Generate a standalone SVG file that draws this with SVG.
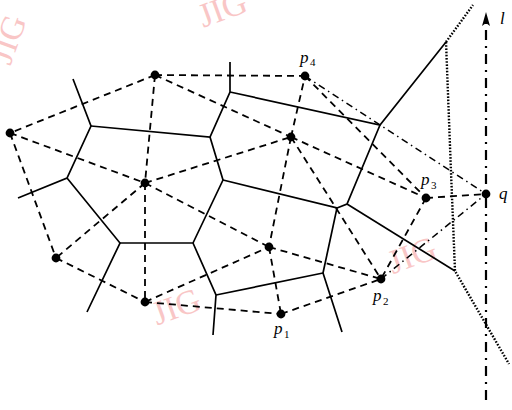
<svg xmlns="http://www.w3.org/2000/svg" width="512" height="410" viewBox="0 0 512 410">
<style>
.wm{font-family:"Liberation Serif",serif;font-size:34px;fill:#f9c6c6}
.v{stroke:#000;stroke-width:1.7;fill:none}
.d{stroke:#000;stroke-width:1.8;fill:none;stroke-dasharray:7 5}
.dd{stroke:#000;stroke-width:1.5;fill:none;stroke-dasharray:7 4 1.5 4}
.dot{stroke:#000;stroke-width:2.4;fill:none;stroke-dasharray:1.6 1.6}
.ax{stroke:#000;stroke-width:2.2;fill:none;stroke-dasharray:10 6 2 6}
.pt{fill:#000}
.lb{font-family:"Liberation Serif",serif;font-style:italic;font-size:17px;fill:#000}
.sb{font-family:"Liberation Serif",serif;font-size:11px;fill:#000}
</style>
<g id="watermarks">
<text class="wm" x="197" y="20" transform="rotate(-20 222 6)">JIG</text>
<text class="wm" x="-18" y="58" transform="rotate(-70 2 42)">JIG</text>
<text class="wm" x="150" y="318" transform="rotate(-20 175 302)">JIG</text>
<text class="wm" x="385" y="266" transform="rotate(-20 412 248)">JIG</text>
</g>
<g id="connectors">
<g id="voronoi">
<polyline class="v" points="73,79 91,126 67,178 18,198"/>
<polyline class="v" points="91,126 210,137 230,92 230,62"/>
<polyline class="v" points="67,178 120,243 87,312"/>
<polyline class="v" points="120,243 193,243 216,295 213,335"/>
<polyline class="v" points="210,137 223,180 193,243"/>
<polyline class="v" points="223,180 337,208 323,273 342,332"/>
<polyline class="v" points="323,273 216,295"/>
<polyline class="v" points="230,92 380,125 446,42"/>
<polyline class="v" points="380,125 347,204 337,208"/>
<polyline class="v" points="347,204 455,271"/>
<polyline class="dot" points="446,42 473,5"/>
<polyline class="dot" points="446,42 451,172 455,271 509,364"/>
</g>
<g id="delaunay">
<line class="d" x1="155" y1="75" x2="10" y2="133"/>
<line class="d" x1="155" y1="75" x2="305" y2="76"/>
<line class="d" x1="155" y1="75" x2="145" y2="183"/>
<line class="d" x1="155" y1="75" x2="291" y2="137"/>
<line class="d" x1="10" y1="133" x2="145" y2="183"/>
<line class="d" x1="10" y1="133" x2="56" y2="258"/>
<line class="d" x1="145" y1="183" x2="56" y2="258"/>
<line class="d" x1="145" y1="183" x2="145" y2="302"/>
<line class="d" x1="145" y1="183" x2="291" y2="137"/>
<line class="d" x1="145" y1="183" x2="269" y2="247"/>
<line class="d" x1="56" y1="258" x2="145" y2="302"/>
<line class="d" x1="145" y1="302" x2="269" y2="247"/>
<line class="d" x1="145" y1="302" x2="281" y2="314"/>
<line class="d" x1="269" y1="247" x2="281" y2="314"/>
<line class="d" x1="269" y1="247" x2="381" y2="279"/>
<line class="d" x1="281" y1="314" x2="381" y2="279"/>
<line class="d" x1="291" y1="137" x2="269" y2="247"/>
<line class="d" x1="291" y1="137" x2="305" y2="76"/>
<line class="d" x1="291" y1="137" x2="381" y2="279"/>
<line class="d" x1="291" y1="137" x2="426" y2="198"/>
<line class="d" x1="305" y1="76" x2="426" y2="198"/>
<line class="d" x1="426" y1="198" x2="486" y2="194"/>
<line class="d" x1="426" y1="198" x2="381" y2="279"/>
<line class="dd" x1="305" y1="76" x2="486" y2="194"/>
<line class="dd" x1="381" y1="279" x2="486" y2="194"/>
</g>
<g id="axis">
<line class="ax" x1="486" y1="400" x2="486" y2="22"/>
<path d="M486,12 L482,26 L486,23 L490,26 Z" fill="#000"/>
</g>
</g>
<g id="sites">
<circle id="a" class="pt" cx="155" cy="75" r="4.4"/>
<circle id="b" class="pt" cx="10" cy="133" r="4.4"/>
<circle id="c" class="pt" cx="145" cy="183" r="4.4"/>
<circle id="d" class="pt" cx="56" cy="258" r="4.4"/>
<circle id="e" class="pt" cx="145" cy="302" r="4.4"/>
<circle id="f" class="pt" cx="269" cy="247" r="4.4"/>
<circle id="g" class="pt" cx="291" cy="137" r="4.4"/>
<circle id="p4" class="pt" cx="305" cy="76" r="4.4"/>
<circle id="p3" class="pt" cx="426" cy="198" r="4.4"/>
<circle id="p2" class="pt" cx="381" cy="279" r="4.4"/>
<circle id="p1" class="pt" cx="281" cy="314" r="4.4"/>
<circle id="q" class="pt" cx="486" cy="194" r="4.4"/>
</g>
<g id="labels">
<text class="lb" x="300" y="63">p</text><text class="sb" x="310" y="66">4</text>
<text class="lb" x="421" y="185">p</text><text class="sb" x="431" y="189">3</text>
<text class="lb" x="373" y="301">p</text><text class="sb" x="383" y="305">2</text>
<text class="lb" x="274" y="334">p</text><text class="sb" x="284" y="338">1</text>
<text class="lb" x="499" y="199">q</text>
<text class="lb" x="500" y="24">l</text>
</g>
</svg>
